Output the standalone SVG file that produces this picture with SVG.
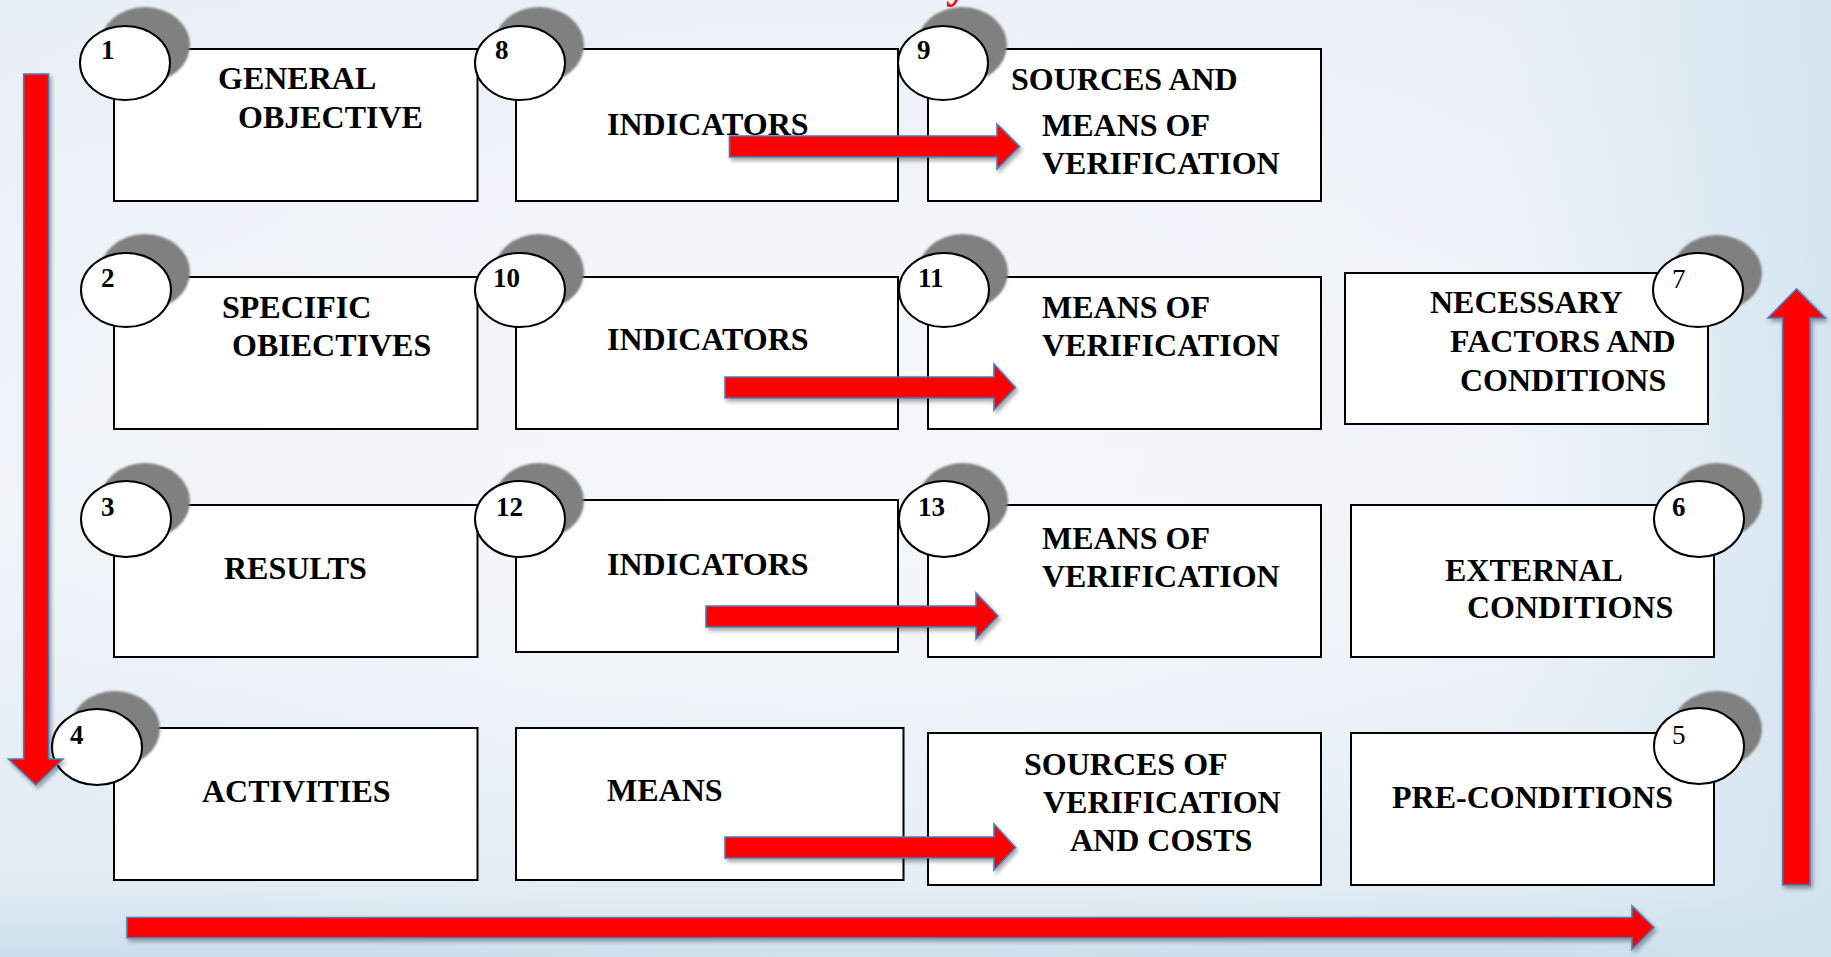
<svg xmlns="http://www.w3.org/2000/svg" width="1831" height="957" viewBox="0 0 1831 957">
  <defs>
    <linearGradient id="bg" x1="0" y1="0" x2="0" y2="1">
      <stop offset="0" stop-color="#e9eff6"/>
      <stop offset="0.55" stop-color="#eef3f8"/>
      <stop offset="0.93" stop-color="#e0ebf3"/>
      <stop offset="1" stop-color="#c9dfeb"/>
    </linearGradient>
    <radialGradient id="glow" cx="0.45" cy="0.45" r="0.6">
      <stop offset="0" stop-color="#f6f8fb" stop-opacity="0.9"/>
      <stop offset="1" stop-color="#f6f8fb" stop-opacity="0"/>
    </radialGradient>
    <linearGradient id="rside" x1="0" y1="0" x2="1" y2="0">
      <stop offset="0" stop-color="#d4e6f0" stop-opacity="0"/>
      <stop offset="1" stop-color="#cfe2ee" stop-opacity="0.8"/>
    </linearGradient>
    <filter id="sh" x="-10%" y="-20%" width="130%" height="160%">
      <feDropShadow dx="2" dy="3" stdDeviation="2" flood-color="#000" flood-opacity="0.35"/>
    </filter>
    <filter id="soft" x="-10%" y="-10%" width="120%" height="120%">
      <feGaussianBlur stdDeviation="0.8"/>
    </filter>
  </defs>
  <style>
    .box{fill:#fff;stroke:#000;stroke-width:2}
    .lbl{font-family:"Liberation Serif","Times New Roman",serif;font-weight:bold;font-size:32px;fill:#000}
    .num{font-family:"Liberation Serif","Times New Roman",serif;font-size:27px;fill:#000}
    .b{font-weight:bold}
    .shd{fill:#808080;filter:url(#soft)}
    .circ{fill:#fff;stroke:#000;stroke-width:2}
    .arr{fill:#ff0000;stroke:#4a7ebb;stroke-width:1.6;filter:url(#sh)}
  </style>

  <rect x="0" y="0" width="1831" height="957" fill="url(#bg)"/>
  <rect x="0" y="0" width="1831" height="957" fill="url(#glow)"/>
  <rect x="1500" y="0" width="331" height="957" fill="url(#rside)"/>

  <text x="946" y="-2" style="font-family:'Liberation Serif','Times New Roman',serif;font-weight:bold;font-size:44px;fill:#ff0000">y</text>

  <!-- Row 1 -->
  <g id="node-1">
    <rect class="box" x="114" y="49" width="363.5" height="152"/>
    <ellipse class="shd" cx="145" cy="45" rx="45" ry="38"/>
    <ellipse class="circ" cx="125" cy="63" rx="45" ry="37"/>
    <text class="num b" x="101" y="59">1</text>
    <text class="lbl" x="218" y="89">GENERAL</text>
    <text class="lbl" x="238" y="128">OBJECTIVE</text>
  </g>
  <g id="node-8">
    <rect class="box" x="516" y="49" width="382" height="152"/>
    <ellipse class="shd" cx="539" cy="45" rx="45" ry="38"/>
    <ellipse class="circ" cx="520" cy="63" rx="45" ry="37"/>
    <text class="num b" x="495" y="59">8</text>
    <text class="lbl" x="607" y="135">INDICATORS</text>
  </g>
  <g id="node-9">
    <rect class="box" x="928" y="49" width="393" height="152"/>
    <ellipse class="shd" cx="962" cy="45" rx="45" ry="38"/>
    <ellipse class="circ" cx="943" cy="63" rx="45" ry="37"/>
    <text class="num b" x="917" y="59">9</text>
    <text class="lbl" x="1011" y="90">SOURCES AND</text>
    <text class="lbl" x="1042" y="136">MEANS OF</text>
    <text class="lbl" x="1042" y="174">VERIFICATION</text>
  </g>

  <!-- Row 2 -->
  <g id="node-2">
    <rect class="box" x="114" y="277" width="363.5" height="152"/>
    <ellipse class="shd" cx="145" cy="272" rx="45" ry="38"/>
    <ellipse class="circ" cx="126" cy="290" rx="45" ry="37"/>
    <text class="num b" x="101" y="287">2</text>
    <text class="lbl" x="222" y="318">SPECIFIC</text>
    <text class="lbl" x="232" y="356">OBIECTIVES</text>
  </g>
  <g id="node-10">
    <rect class="box" x="516" y="277" width="382" height="152"/>
    <ellipse class="shd" cx="539" cy="272" rx="45" ry="38"/>
    <ellipse class="circ" cx="520" cy="290" rx="45" ry="37"/>
    <text class="num b" x="493" y="287">10</text>
    <text class="lbl" x="607" y="350">INDICATORS</text>
  </g>
  <g id="node-11">
    <rect class="box" x="928" y="277" width="393" height="152"/>
    <ellipse class="shd" cx="963" cy="272" rx="45" ry="38"/>
    <ellipse class="circ" cx="944" cy="290" rx="45" ry="37"/>
    <text class="num b" x="918" y="287">11</text>
    <text class="lbl" x="1042" y="318">MEANS OF</text>
    <text class="lbl" x="1042" y="356">VERIFICATION</text>
  </g>
  <g id="node-7">
    <rect class="box" x="1345" y="273" width="363" height="151"/>
    <ellipse class="shd" cx="1717" cy="273" rx="45" ry="38"/>
    <ellipse class="circ" cx="1698" cy="290" rx="45" ry="37"/>
    <text class="num" x="1672" y="288">7</text>
    <text class="lbl" x="1430" y="313">NECESSARY</text>
    <text class="lbl" x="1450" y="352">FACTORS AND</text>
    <text class="lbl" x="1460" y="391">CONDITIONS</text>
  </g>

  <!-- Row 3 -->
  <g id="node-3">
    <rect class="box" x="114" y="505" width="363.5" height="152"/>
    <ellipse class="shd" cx="145" cy="501" rx="45" ry="38"/>
    <ellipse class="circ" cx="126" cy="519" rx="45" ry="38"/>
    <text class="num b" x="101" y="516">3</text>
    <text class="lbl" x="224" y="579">RESULTS</text>
  </g>
  <g id="node-12">
    <rect class="box" x="516" y="500" width="382" height="152"/>
    <ellipse class="shd" cx="539" cy="501" rx="45" ry="38"/>
    <ellipse class="circ" cx="520" cy="519" rx="45" ry="38"/>
    <text class="num b" x="496" y="516">12</text>
    <text class="lbl" x="607" y="575">INDICATORS</text>
  </g>
  <g id="node-13">
    <rect class="box" x="928" y="505" width="393" height="152"/>
    <ellipse class="shd" cx="963" cy="501" rx="45" ry="38"/>
    <ellipse class="circ" cx="944" cy="519" rx="45" ry="38"/>
    <text class="num b" x="918" y="516">13</text>
    <text class="lbl" x="1042" y="549">MEANS OF</text>
    <text class="lbl" x="1042" y="587">VERIFICATION</text>
  </g>
  <g id="node-6">
    <rect class="box" x="1351" y="505" width="363" height="152"/>
    <ellipse class="shd" cx="1717" cy="501" rx="45" ry="38"/>
    <ellipse class="circ" cx="1699" cy="519" rx="45" ry="38"/>
    <text class="num b" x="1672" y="516">6</text>
    <text class="lbl" x="1445" y="581">EXTERNAL</text>
    <text class="lbl" x="1467" y="618">CONDITIONS</text>
  </g>

  <!-- Row 4 -->
  <g id="node-4">
    <rect class="box" x="114" y="728" width="363.5" height="152"/>
    <ellipse class="shd" cx="115" cy="729" rx="45" ry="38"/>
    <ellipse class="circ" cx="97" cy="747" rx="45" ry="38"/>
    <text class="num b" x="70" y="744">4</text>
    <text class="lbl" x="202" y="802">ACTIVITIES</text>
  </g>
  <g id="node-means">
    <rect class="box" x="516" y="728" width="387.5" height="152"/>
    <text class="lbl" x="607" y="801">MEANS</text>
  </g>
  <g id="node-sources">
    <rect class="box" x="928" y="733" width="393" height="152"/>
    <text class="lbl" x="1024" y="775">SOURCES OF</text>
    <text class="lbl" x="1043" y="813">VERIFICATION</text>
    <text class="lbl" x="1070" y="851">AND COSTS</text>
  </g>
  <g id="node-5">
    <rect class="box" x="1351" y="733" width="363" height="152"/>
    <ellipse class="shd" cx="1717" cy="729" rx="45" ry="38"/>
    <ellipse class="circ" cx="1699" cy="746" rx="45" ry="38"/>
    <text class="num" x="1672" y="744">5</text>
    <text class="lbl" x="1392" y="808">PRE-CONDITIONS</text>
  </g>

  <!-- Connectors -->
  <g id="connectors">
    <path class="arr" d="M729.5,136 H997 V124 L1019.5,146.5 L997,169 V157 H729.5 Z"/>
    <path class="arr" d="M725,377 H994 V364 L1015.5,387.5 L994,410 V398 H725 Z"/>
    <path class="arr" d="M706,606 H976 V593 L998,616 L976,639 V627 H706 Z"/>
    <path class="arr" d="M725,837 H994 V824 L1015.5,847.5 L994,870 V858 H725 Z"/>
    <path class="arr" d="M23.7,74 H48.6 V759 H63 L35.8,785 L8.5,759 H23.7 Z"/>
    <path class="arr" d="M1782.6,885 V318 H1768 L1796.5,289 L1825.5,318 H1810 V885 Z"/>
    <path class="arr" d="M127,917.5 H1632 V906 L1654,927.5 L1632,949.3 V937.7 H127 Z"/>
  </g>
</svg>
